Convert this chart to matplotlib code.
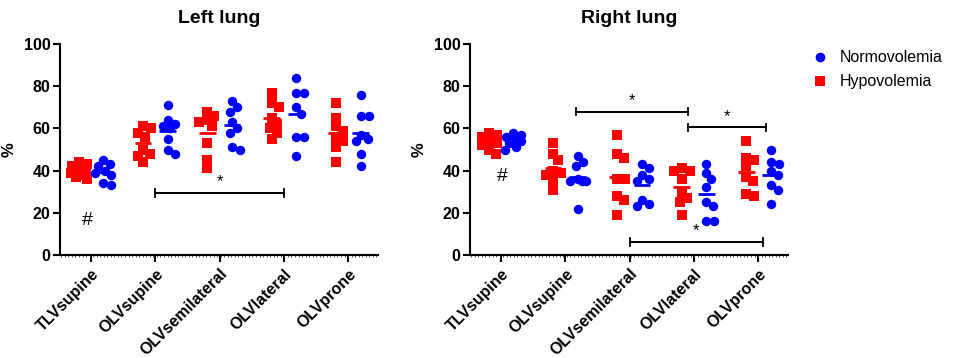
import numpy as np
import matplotlib
matplotlib.use("Agg")
import matplotlib.pyplot as plt

plt.rcParams['font.family'] = ['Liberation Sans', 'DejaVu Sans']

categories = ["TLVsupine", "OLVsupine", "OLVsemilateral", "OLVlateral", "OLVprone"]

left_hypo = [
    [44, 43, 42, 40, 40, 39, 38, 37, 36],
    [61, 60, 58, 56, 50, 48, 47, 44],
    [68, 66, 64, 63, 61, 53, 45, 41],
    [77, 72, 70, 65, 62, 60, 58, 55],
    [72, 65, 61, 59, 56, 54, 51, 44],
]
left_normo = [
    [45, 43, 42, 40, 39, 38, 34, 33],
    [71, 64, 62, 61, 60, 55, 50, 48],
    [73, 70, 68, 63, 60, 58, 51, 50],
    [84, 77, 77, 70, 67, 56, 56, 47],
    [76, 66, 66, 57, 55, 54, 48, 42],
]
right_hypo = [
    [58, 57, 56, 54, 53, 52, 50, 48],
    [53, 48, 45, 40, 39, 38, 35, 31],
    [57, 48, 46, 36, 36, 28, 26, 19],
    [41, 40, 40, 36, 30, 27, 25, 19],
    [54, 46, 45, 42, 37, 35, 29, 28],
]
right_normo = [
    [58, 57, 56, 55, 54, 53, 51, 50],
    [47, 44, 42, 36, 35, 35, 35, 22],
    [43, 41, 38, 36, 35, 26, 24, 23],
    [43, 39, 36, 32, 25, 23, 16, 16],
    [50, 44, 43, 40, 38, 33, 31, 24],
]

RED = "#ff0000"
BLUE = "#0000ff"

W, H, DPI = 957, 358, 100
fig = plt.figure(figsize=(W / DPI, H / DPI), dpi=DPI)

ax_h = 211 / H
ax_b = (H - 255) / H
ax_w = 318 / W
axL = fig.add_axes([60 / W, ax_b, ax_w, ax_h])
axR = fig.add_axes([470 / W, ax_b, ax_w, ax_h])

XMIN, XMAX = -0.48, 4.46
PX_PER_CAT = 318 / (XMAX - XMIN)
PX_PER_UNIT = 211 / 100.0


def swarm(vals, diam=8.0, maxoff=8.0):
    """compact beeswarm: x offsets in category units"""
    placed = []
    offs = np.zeros(len(vals))
    order = np.argsort(vals)[::-1]
    cands = [0.0]
    for k in np.arange(1.0, maxoff + 0.01, 1.0):
        cands += [k, -k]
    for i in order:
        y = vals[i] * PX_PER_UNIT
        best, bestd = None, -1
        for x in cands:
            d = min([np.hypot(x - px, y - py) for px, py in placed] + [1e9])
            if d >= diam:
                best = x
                break
            if d > bestd:
                bestd, bestx = d, x
        if best is None:
            best = bestx
        placed.append((best, y))
        offs[i] = best / PX_PER_CAT
    return offs


def draw(ax, hypo, normo, title):
    for ci in range(len(categories)):
        for vals, off, col, mk in ((hypo[ci], -0.19, RED, 's'), (normo[ci], 0.19, BLUE, 'o')):
            v = np.array(vals, float)
            xo = swarm(v)
            ax.plot(ci + off + xo, v, linestyle='none', marker=mk, color=col,
                    markersize=6.6 if mk == 's' else 6.8, markeredgewidth=0, zorder=3)
            m = v.mean()
            ax.plot([ci + off - 0.13, ci + off + 0.13], [m, m], color=col, lw=2, zorder=4,
                    solid_capstyle='butt')
    ax.set_xlim(XMIN, XMAX)
    ax.set_ylim(0, 100)
    ax.set_xticks(range(len(categories)))
    ax.set_xticklabels(categories, rotation=45, ha='right', rotation_mode='anchor',
                       fontsize=11.5, fontweight='bold')
    ax.set_yticks([0, 20, 40, 60, 80, 100])
    ax.set_yticklabels(['0', '20', '40', '60', '80', '100'], fontsize=11.5, fontweight='bold')
    ax.set_xticks(np.arange(XMIN + 0.02, XMAX, 0.055), minor=True)
    ax.tick_params(axis='x', which='minor', length=1.2, width=0.6, color='#333333')
    ax.tick_params(axis='both', which='major', length=5, width=1.5, color='black')
    ax.tick_params(axis='x', which='major', pad=3)
    ax.tick_params(axis='y', which='major', pad=2)
    for s in ('top', 'right'):
        ax.spines[s].set_visible(False)
    for s in ('left', 'bottom'):
        ax.spines[s].set_linewidth(1.5)
    ax.set_title(title, fontsize=14, fontweight='bold', pad=15)
    ax.set_ylabel('%', fontsize=12, fontweight='bold')
    ax.yaxis.set_label_coords(-0.135, 0.5)


def bracket(ax, x0, x1, y, tick=1.8):
    ax.plot([x0, x0, x1, x1], [y + tick, y, y, y + tick], color='black', lw=1.3, zorder=5)
    ax.plot([x0, x0, x1, x1], [y - tick, y, y, y - tick], color='black', lw=1.3, zorder=5)
    ax.text((x0 + x1) / 2, y + 1.5, '*', ha='center', va='bottom', fontsize=12, zorder=5)


draw(axL, left_hypo, left_normo, 'Left lung')
draw(axR, right_hypo, right_normo, 'Right lung')

axL.text(-0.06, 16.5, '#', ha='center', va='center', fontsize=14)
axR.text(0.02, 37, '#', ha='center', va='center', fontsize=14)

bracket(axL, 1.0, 3.0, 29.5)
bracket(axR, 1.17, 2.9, 68)
bracket(axR, 2.9, 4.12, 60.5)
bracket(axR, 2.0, 4.07, 6.3)

# legend
h1 = plt.Line2D([], [], linestyle='none', marker='o', color=BLUE, markersize=7, markeredgewidth=0)
h2 = plt.Line2D([], [], linestyle='none', marker='s', color=RED, markersize=7, markeredgewidth=0)
fig.legend([h1, h2], ['Normovolemia', 'Hypovolemia'], loc='upper left',
           bbox_to_anchor=(798 / W, 1 - 36 / H), frameon=False, fontsize=11.5,
           handlelength=1.0, handletextpad=0.7, labelspacing=0.55)

fig.savefig('out.png', dpi=DPI)
